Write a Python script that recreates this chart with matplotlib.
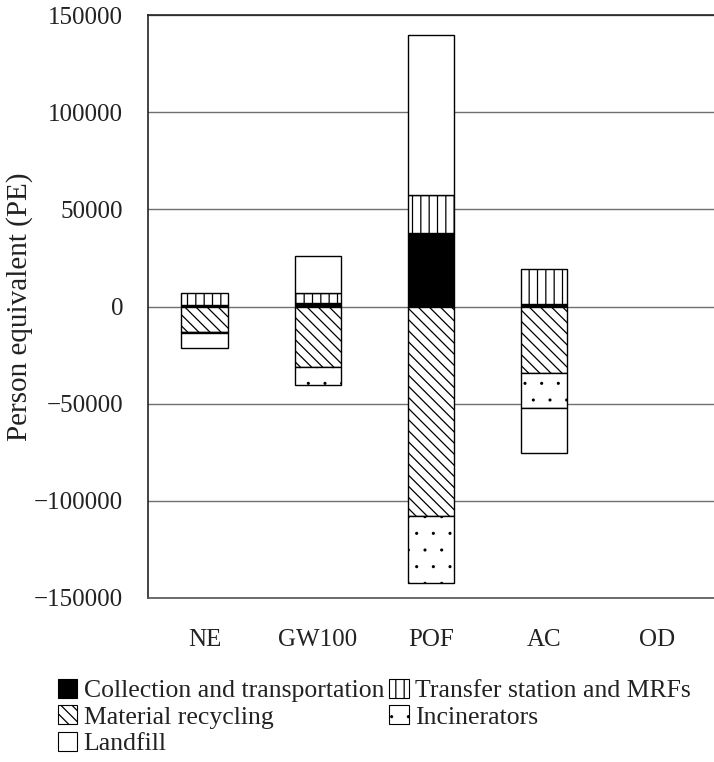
import matplotlib
matplotlib.use("Agg")
import matplotlib.pyplot as plt
import matplotlib.hatch as mhatch
import numpy as np
from matplotlib.patches import Patch

plt.rcParams['font.family'] = ['Liberation Serif', 'DejaVu Serif']
plt.rcParams['hatch.color'] = 'black'
plt.rcParams['hatch.linewidth'] = 0.9
mhatch.SmallFilledCircles.size = 0.055

categories = ["NE", "GW100", "POF", "AC", "OD"]
collection = [1000, 1700, 38000, 1200, 0]
transfer = [6100, 5400, 19400, 17900, 0]
recycling = [-13000, -31000, -107800, -34400, 0]
incinerators = [-800, -9400, -34300, -18000, 0]
landfill = [-7400, 18900, 82300, -23000, 0]

series = [
    ("Collection and transportation", collection, 'black', ''),
    ("Transfer station and MRFs", transfer, 'white', '||'),
    ("Material recycling", recycling, 'white', '\\\\\\'),
    ("Incinerators", incinerators, 'white', '.'),
    ("Landfill", landfill, 'white', ''),
]

fig = plt.figure(figsize=(7.14, 7.62), dpi=100)
ax = fig.add_axes([148/714, (762-598)/762, 566/714, 583/762])

x = np.arange(len(categories))
pos_bottom = np.zeros(len(categories))
neg_bottom = np.zeros(len(categories))
handles = {}
for name, vals, color, hatch in series:
    vals = np.array(vals, dtype=float)
    bottoms = np.where(vals >= 0, pos_bottom, neg_bottom)
    nz = vals != 0
    ax.bar(x[nz], vals[nz], 0.41, bottom=bottoms[nz], color=color, edgecolor='black',
           hatch=hatch, linewidth=1.0, zorder=3)
    pos_bottom += np.where(vals >= 0, vals, 0)
    neg_bottom += np.where(vals < 0, vals, 0)
    handles[name] = Patch(facecolor=color, edgecolor='black', hatch=hatch, linewidth=0.8)

ax.set_xlim(-0.5, 4.5)
ax.set_ylim(-150000, 150000)
ax.set_yticks([-150000, -100000, -50000, 0, 50000, 100000, 150000])
ax.yaxis.grid(True, color='#707070', linewidth=1.0, zorder=0)
ax.set_axisbelow(True)
ax.set_xticks(x)
ax.set_xticklabels(categories)
ax.tick_params(axis='both', length=0, labelsize=18, colors='#222222')
ax.tick_params(axis='x', pad=22)
ax.tick_params(axis='y', pad=18)
for s in ['left', 'top']:
    ax.spines[s].set_color('#222222')
    ax.spines[s].set_linewidth(1.2)
ax.spines['right'].set_visible(False)
ax.spines['bottom'].set_color('#555555')
ax.spines['bottom'].set_linewidth(1.2)
ax.set_ylabel("Person equivalent (PE)", fontsize=21, color='#222222')
ax.yaxis.set_label_coords(-(148 - 33) / 566, 0.5)

order = ["Collection and transportation", "Material recycling", "Landfill",
         "Transfer station and MRFs", "Incinerators"]
leg = fig.legend([handles[n] for n in order], order, loc='upper left',
                 bbox_to_anchor=(58/714, 1 - 679/762), ncol=2, frameon=False,
                 fontsize=18.5, handlelength=0.75, handleheight=0.75,
                 handletextpad=0.25, columnspacing=0.2, labelspacing=0.12,
                 borderaxespad=0, borderpad=0)
for t in leg.get_texts():
    t.set_color('#222222')

fig.savefig("out.png", dpi=100)
